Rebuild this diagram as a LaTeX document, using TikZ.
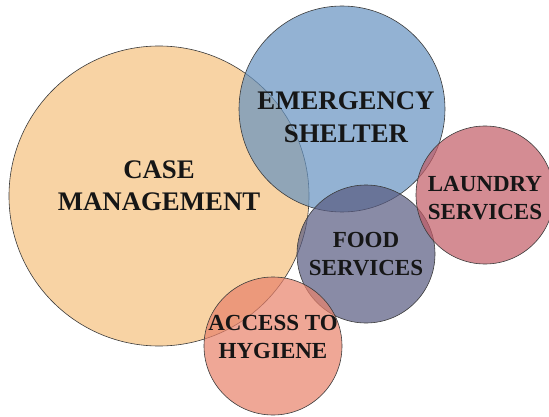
\documentclass[tikz,border=0pt]{standalone}
\usepackage{fontspec}
\setmainfont{Liberation Serif}
\usepackage{xcolor}
\usepackage{tikz}

\definecolor{casecol}{HTML}{F5C07E}
\definecolor{sheltercol}{HTML}{6592C0}
\definecolor{foodcol}{HTML}{575A80}
\definecolor{laundrycol}{HTML}{C25B65}
\definecolor{hygienecol}{HTML}{E8816A}
\definecolor{rimcol}{HTML}{3A3A3A}
\definecolor{inkcol}{HTML}{161616}

\begin{document}
\begin{tikzpicture}[x=1pt, y=-1pt,
    bubble/.style={draw=rimcol, line width=0.6pt, fill opacity=0.7},
    biglabel/.style={text=inkcol, align=center, inner sep=0pt,
        font=\fontsize{26.8}{32.5}\selectfont\bfseries},
    smalllabel/.style={text=inkcol, align=center, inner sep=0pt,
        font=\fontsize{23}{28}\selectfont\bfseries}]
    \useasboundingbox (0,0) rectangle (549,417);
    % bubble centres
    \coordinate (CM) at (159, 196);
    \coordinate (ES) at (342, 109);
    \coordinate (FS) at (366, 254);
    \coordinate (LS) at (485, 195);
    \coordinate (AH) at (273, 346);
    % bubbles, back to front
    \draw[bubble, fill=casecol] (CM) circle (150pt);
    \draw[bubble, fill=sheltercol] (ES) circle (103pt);
    \draw[bubble, fill=foodcol] (FS) circle (69pt);
    \draw[bubble, fill=laundrycol] (LS) circle (69pt);
    \draw[bubble, fill=hygienecol] (AH) circle (69pt);
    % labels
    \node[biglabel] (case) at (159, 186) {CASE\\MANAGEMENT};
    \node[biglabel] (shelter) at (346, 117.5) {EMERGENCY\\SHELTER};
    \node[smalllabel] (laundry) at (485, 198) {LAUNDRY\\SERVICES};
    \node[smalllabel] (food) at (366, 254.5) {FOOD\\SERVICES};
    \node[smalllabel] (hygiene) at (273, 336.5) {ACCESS TO\\HYGIENE};
\end{tikzpicture}
\end{document}
